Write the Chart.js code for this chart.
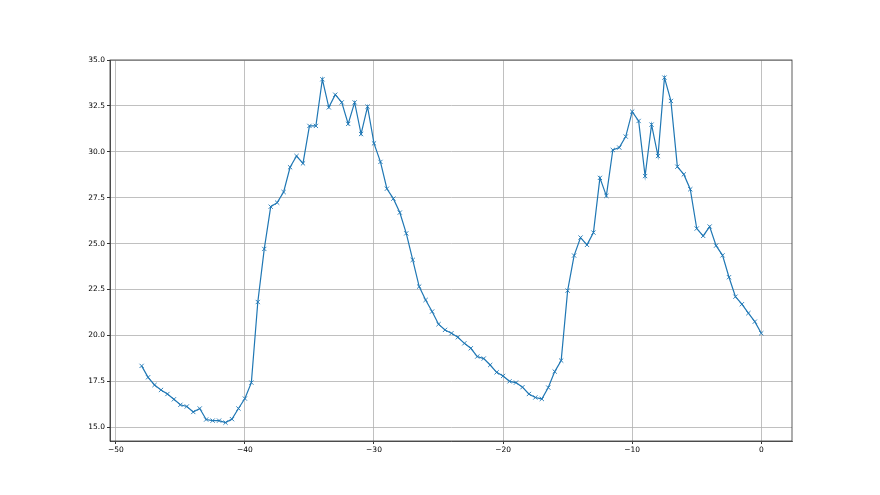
<!DOCTYPE html>
<html>
<head>
<meta charset="utf-8">
<script src="https://cdn.jsdelivr.net/npm/chart.js@4/dist/chart.umd.min.js"></script>
<style>
html,body{margin:0;padding:0;background:#fff;}
#wrap{width:880px;height:495px;position:relative;}
</style>
</head>
<body>
<div id="wrap"><canvas id="c" width="880" height="495"></canvas></div>
<script>
const xValues = [-48,-47.5,-47,-46.5,-46,-45.5,-45,-44.5,-44,-43.5,-43,-42.5,-42,-41.5,-41,-40.5,-40,-39.5,-39,-38.5,-38,-37.5,-37,-36.5,-36,-35.5,-35,-34.5,-34,-33.5,-33,-32.5,-32,-31.5,-31,-30.5,-30,-29.5,-29,-28.5,-28,-27.5,-27,-26.5,-26,-25.5,-25,-24.5,-24,-23.5,-23,-22.5,-22,-21.5,-21,-20.5,-20,-19.5,-19,-18.5,-18,-17.5,-17,-16.5,-16,-15.5,-15,-14.5,-14,-13.5,-13,-12.5,-12,-11.5,-11,-10.5,-10,-9.5,-9,-8.5,-8,-7.5,-7,-6.5,-6,-5.5,-5,-4.5,-4,-3.5,-3,-2.5,-2,-1.5,-1,-0.5,0];
const yValues = [18.34,17.72,17.30,17.03,16.81,16.52,16.22,16.13,15.83,16.02,15.42,15.36,15.36,15.25,15.44,16.02,16.56,17.43,21.82,24.71,27.01,27.23,27.81,29.16,29.77,29.37,31.41,31.41,33.95,32.42,33.11,32.69,31.52,32.69,30.97,32.46,30.46,29.45,27.99,27.45,26.69,25.56,24.11,22.66,21.93,21.30,20.61,20.30,20.12,19.90,19.57,19.30,18.85,18.74,18.39,17.99,17.79,17.50,17.43,17.18,16.81,16.62,16.54,17.16,18.03,18.63,22.44,24.35,25.33,24.93,25.60,28.58,27.60,30.10,30.23,30.83,32.19,31.68,28.68,31.48,29.77,34.04,32.77,29.19,28.77,27.96,25.82,25.42,25.93,24.89,24.36,23.17,22.11,21.70,21.21,20.75,20.12];
const xTicks = [-50,-40,-30,-20,-10,0];
const yTicks = [15.0,17.5,20.0,22.5,25.0,27.5,30.0,32.5,35.0];

const points = xValues.map((x,i)=>({x:x,y:yValues[i]}));

const frame = {
  id:'frame',
  afterDraw(chart){
    const a = chart.chartArea, ctx = chart.ctx;
    ctx.save();
    ctx.strokeStyle = '#333';
    ctx.lineWidth = 0.8;
    ctx.strokeRect(a.left, a.top, a.right-a.left, a.bottom-a.top);
    ctx.restore();
  }
};

const fmtX = v => (v<0 ? '\u2212'+Math.abs(v) : String(v));

new Chart(document.getElementById('c'), {
  type:'line',
  data:{datasets:[{
    data:points,
    borderColor:'#1f77b4',
    backgroundColor:'#1f77b4',
    borderWidth:1.2,
    pointStyle:'crossRot',
    pointRadius:3,
    pointBorderWidth:0.9,
    pointBorderColor:'#1f77b4',
    pointHoverRadius:3,
    tension:0,
    fill:false
  }]},
  options:{
    responsive:false,
    animation:false,
    events:[],
    layout:{padding:{left:0,top:60,right:88,bottom:0}},
    plugins:{legend:{display:false},tooltip:{enabled:false}},
    scales:{
      x:{
        type:'linear',
        min:-50.45, max:2.38,
        afterBuildTicks(s){ s.ticks = xTicks.map(v=>({value:v})); },
        afterFit(s){ s.height = 54; },
        grid:{color:'#b0b0b0',lineWidth:0.8,tickColor:'#000',tickLength:3,drawTicks:true},
        border:{display:true,color:'#333',width:0.8},
        ticks:{color:'#000',font:{family:'DejaVu Sans',size:7.5},padding:2,maxRotation:0,autoSkip:false,callback:v=>fmtX(v)}
      },
      y:{
        type:'linear',
        min:14.25, max:35.0,
        afterBuildTicks(s){ s.ticks = yTicks.map(v=>({value:v})); },
        afterFit(s){ s.width = 110; },
        grid:{color:'#b0b0b0',lineWidth:0.8,tickColor:'#000',tickLength:3,drawTicks:true},
        border:{display:true,color:'#333',width:0.8},
        ticks:{color:'#000',font:{family:'DejaVu Sans',size:7.5},padding:2,autoSkip:false,callback:v=>v.toFixed(1)}
      }
    }
  },
  plugins:[frame]
});
</script>
</body>
</html>
